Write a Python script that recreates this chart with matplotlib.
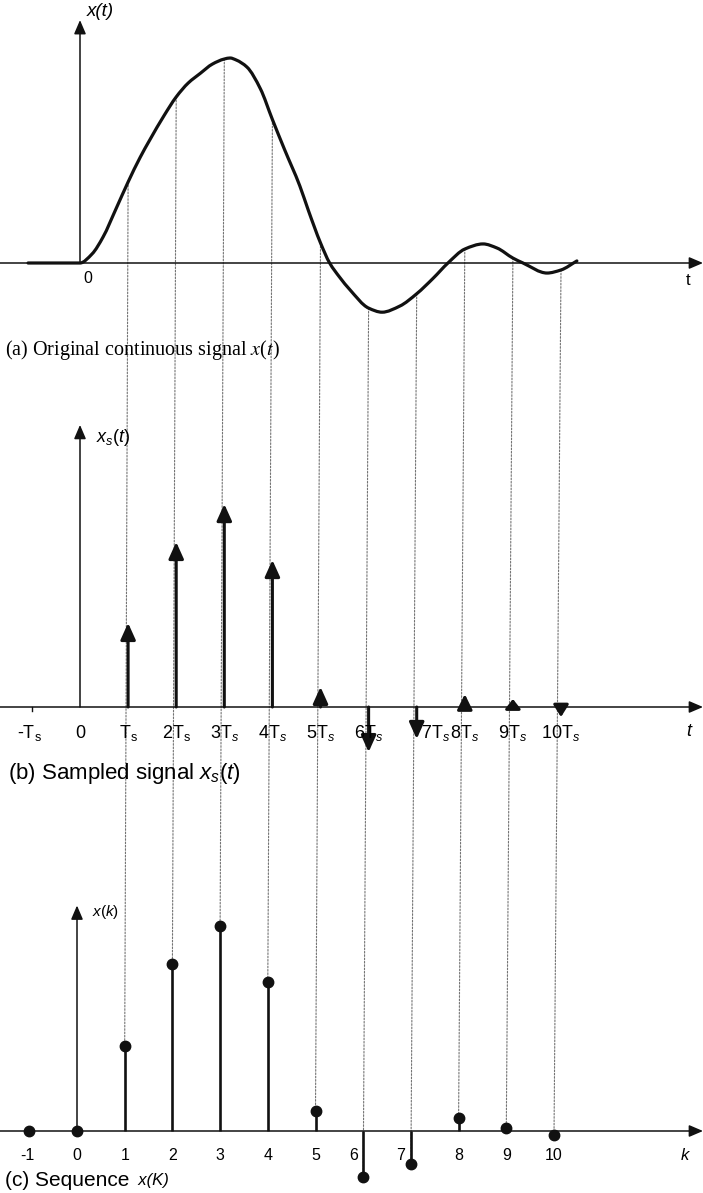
import matplotlib
matplotlib.use('Agg')
import matplotlib.pyplot as plt
from matplotlib.patches import ConnectionPatch, PathPatch
from matplotlib.path import Path
import numpy as np

plt.rcParams['font.family'] = ['Liberation Sans', 'DejaVu Sans']
plt.rcParams['mathtext.fontset'] = 'custom'
plt.rcParams['mathtext.rm'] = 'Liberation Sans'
plt.rcParams['mathtext.it'] = 'Liberation Sans:italic'
plt.rcParams['mathtext.bf'] = 'Liberation Sans:bold'

# (a) continuous signal, t in units of Ts, amplitude normalised to the peak
t_curve = [-1.08, 0, 0.25, 0.48, 0.75, 1.0, 1.25, 1.45, 1.75, 2.0,
           2.25, 2.5, 2.75, 3.0, 3.12, 3.25, 3.47, 3.75, 4.0, 4.25,
           4.57, 4.75, 5.0, 5.19, 5.4, 5.61, 6.0, 6.28, 6.65, 7.0,
           7.34, 7.65, 8.0, 8.38, 8.67, 9.0, 9.21, 9.71, 10.0, 10.33]
x_curve = [0, 0, 0.044, 0.127, 0.265, 0.395, 0.515, 0.60, 0.72, 0.81,
           0.878, 0.925, 0.97, 0.995, 1.0, 0.99, 0.956, 0.85, 0.70, 0.555,
           0.376, 0.255, 0.098, 0, -0.07, -0.13, -0.22, -0.24, -0.21, -0.15,
           -0.075, 0, 0.068, 0.093, 0.073, 0.024, 0, -0.049, -0.034, 0.01]

# (b) impulse arrows (tip heights)
k_imp = [1, 2, 3, 4, 5, 6, 7, 8, 9, 10]
x_imp = [0.41, 0.805, 0.99, 0.717, 0.098, -0.22, -0.156, 0.063, 0.039, -0.049]
b_ticks = [-1, 0, 1, 2, 3, 4, 5, 6, 7, 8, 9, 10]
b_labels = [r'-T$_\mathrm{s}$', '0', r'T$_\mathrm{s}$', r'2T$_\mathrm{s}$', r'3T$_s$',
            r'4T$_s$', r'5T$_s$', r'6T$_s$', r'7T$_s$', r'8T$_s$', r'9T$_s$', r'10T$_s$']

# (c) sequence
k_seq = [-1, 0, 1, 2, 3, 4, 5, 6, 7, 8, 9, 10]
x_seq = [0, 0, 0.415, 0.815, 1.0, 0.727, 0.098, -0.224, -0.161, 0.063, 0.015, -0.020]
c_labels = ['-1', '0', '1', '2', '3', '4', '5', '6', '7', '8', '9', '10']

W, H = 703, 1193
SCALE = 205.0  # pixels per unit amplitude
INK = '#111111'

fig = plt.figure(figsize=(W / 100, H / 100), dpi=100)
fig.patch.set_facecolor('white')


def px(x, y):
    return x / W, 1 - y / H


def panel(top, bottom, zero, k0, k10):
    ax = fig.add_axes([0, 1 - bottom / H, 1, (bottom - top) / H])
    step = (k10 - k0) / 10.0
    ax.set_xlim(-k0 / step, (W - k0) / step)
    ax.set_ylim(-(bottom - zero) / SCALE, (zero - top) / SCALE)
    ax.axis('off')
    return ax


def axis_arrows(ax, ytop):
    style = dict(arrowstyle='-|>,head_length=0.7,head_width=0.3', lw=1.1,
                 color=INK, shrinkA=0, shrinkB=0, mutation_scale=12)
    ax.annotate('', xy=(1, 0), xytext=(0, 0), xycoords=ax.get_yaxis_transform(),
                arrowprops=style, annotation_clip=False)
    ax.annotate('', xy=(0, ytop), xytext=(0, 0), arrowprops=style,
                annotation_clip=False)


def smooth_path(xs, ys):
    # monotone (pchip-style) tangents, drawn as cubic Bezier segments
    x = np.asarray(xs, float)
    y = np.asarray(ys, float)
    h = np.diff(x)
    d = np.diff(y) / h
    m = np.zeros_like(y)
    m[0], m[-1] = d[0], d[-1]
    for i in range(1, len(x) - 1):
        if d[i - 1] * d[i] > 0:
            w1 = 2 * h[i] + h[i - 1]
            w2 = h[i] + 2 * h[i - 1]
            m[i] = (w1 + w2) / (w1 / d[i - 1] + w2 / d[i])
    verts = [(x[0], y[0])]
    codes = [Path.MOVETO]
    for i in range(len(x) - 1):
        verts += [(x[i] + h[i] / 3, y[i] + m[i] * h[i] / 3),
                  (x[i + 1] - h[i] / 3, y[i + 1] - m[i + 1] * h[i] / 3),
                  (x[i + 1], y[i + 1])]
        codes += [Path.CURVE4] * 3
    return Path(verts, codes)


ax_a = panel(0, 320, 263, 80, 561)
ax_b = panel(380, 770, 707, 80, 561)
ax_c = panel(860, 1193, 1131, 77, 554)

# (a)
axis_arrows(ax_a, 1.185)
ax_a.add_patch(PathPatch(smooth_path(t_curve, x_curve), facecolor='none',
                         edgecolor=INK, lw=2.3, capstyle='round',
                         joinstyle='round', zorder=3))
fig.text(*px(87, 12), 'x(t)', fontsize=13.5, style='italic', va='center', ha='left')
ax_a.annotate('0', xy=(0, 0), xytext=(8, -15), textcoords='offset pixels',
              fontsize=11.5, ha='center', va='center')
fig.text(*px(688, 280), 't', fontsize=12, va='center', ha='center')
fig.text(*px(5, 350), r'(a) Original continuous signal $x$($t$)',
         family='Liberation Serif', math_fontfamily='stix', fontsize=14.5,
         va='center', ha='left')

# (b)
axis_arrows(ax_b, 1.376)
HEAD = 14 / SCALE
for k, v in zip(k_imp, x_imp):
    hl = 1.0 * min(1.0, abs(v) / HEAD)
    ax_b.annotate('', xy=(k, v), xytext=(k, 0),
                  arrowprops=dict(arrowstyle=f'-|>,head_length={hl:.2f},head_width=0.45',
                                  lw=2.2, color=INK, shrinkA=0, shrinkB=0,
                                  mutation_scale=10), zorder=3)
ax_b.plot([-1, -1], [0, -4 / SCALE], color=INK, lw=1.0)
for k, lab in zip(b_ticks, b_labels):
    dx = 19 if k == 7 else (-2 if k == -1 else 0)
    ax_b.annotate(lab, xy=(k, 0), xytext=(dx, -26), textcoords='offset pixels',
                  fontsize=13, ha='center', va='center')
fig.text(*px(96, 438), r'$x_s(t)$', fontsize=13, va='center', ha='left')
fig.text(*px(689, 732), 't', fontsize=13, style='italic', va='center', ha='center')
fig.text(*px(8, 773), r'(b) Sampled signal $x_s(t)$', fontsize=16,
         va='center', ha='left')

# (c)
axis_arrows(ax_c, 1.10)
ax_c.vlines(k_seq, 0, x_seq, color=INK, lw=1.9, zorder=3)
ax_c.plot(k_seq, x_seq, 'o', color=INK, ms=7.5, zorder=4)
for k, lab in zip(k_seq, c_labels):
    dx = -10 if k in (6, 7) else (-2 if k == -1 else 0)
    ax_c.annotate(lab, xy=(k, 0), xytext=(dx, -24), textcoords='offset pixels',
                  fontsize=11.5, ha='center', va='center')
fig.text(*px(92, 912), r'$x(k)$', fontsize=11, va='center', ha='left')
fig.text(*px(685, 1155), 'k', fontsize=12, style='italic', va='center', ha='center')
cap = fig.text(*px(5, 1180), '(c) Sequence', fontsize=15, va='center', ha='left')
ax_c.annotate('  x(K)', xy=(1, 0.5), xycoords=cap, fontsize=12, style='italic',
              va='center', ha='left', annotation_clip=False)

# dotted projection lines from x(t) down to the sequence
for k, v in zip(k_imp, x_seq[2:]):
    va = np.interp(k, t_curve, x_curve)
    con = ConnectionPatch(xyA=(k, va), coordsA=ax_a.transData,
                          xyB=(k, v), coordsB=ax_c.transData,
                          color='0.45', lw=0.8, ls=(0, (1.5, 1.5)), zorder=-1)
    fig.add_artist(con)

fig.savefig('out.png', dpi=100, facecolor='white')
